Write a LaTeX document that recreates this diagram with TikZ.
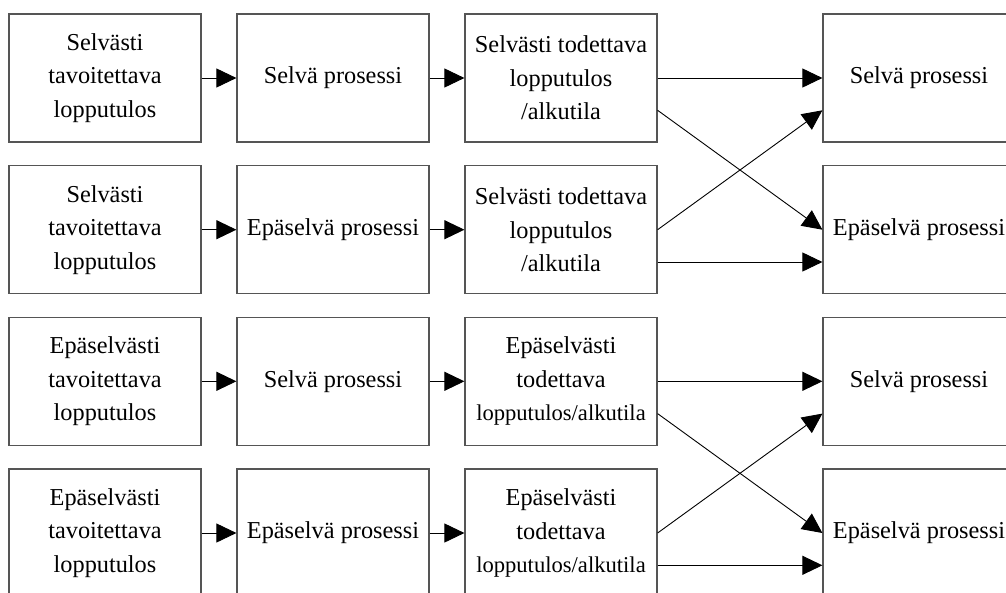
\documentclass[tikz,border=0pt]{standalone}
\usepackage{fontspec}
\setmainfont{Liberation Serif}
\usetikzlibrary{arrows.meta,calc}
\definecolor{edgegray}{RGB}{85,85,85}
\newcommand{\smalltxt}[1]{{\fontsize{22.6}{33.5}\selectfont #1}}
\begin{document}
\begin{tikzpicture}[x=1pt,y=-1pt,
  box/.style={draw=edgegray,line width=1.2pt,minimum width=192pt,minimum height=128pt,
    inner sep=0pt,align=center,font=\fontsize{24.3}{33.5}\selectfont},
  arr/.style={draw=black,line width=0.9pt,-{Triangle[length=20pt,width=19pt]}}]
\useasboundingbox (0,0) rectangle (1006,592);

% row 1
\node[box] (r1a) at (105,78) {Selvästi\\tavoitettava\\lopputulos};
\node[box] (r1b) at (333,78) {Selvä prosessi};
\node[box] (r1c) at (561,78) {Selvästi todettava\\lopputulos\\/alkutila};
\node[box] (r1d) at (919,78) {Selvä prosessi};
% row 2
\node[box] (r2a) at (105,229.7) {Selvästi\\tavoitettava\\lopputulos};
\node[box] (r2b) at (333,229.7) {Epäselvä prosessi};
\node[box] (r2c) at (561,229.7) {Selvästi todettava\\lopputulos\\/alkutila};
\node[box] (r2d) at (919,229.7) {Epäselvä prosessi};
% row 3
\node[box] (r3a) at (105,381.3) {Epäselvästi\\tavoitettava\\lopputulos};
\node[box] (r3b) at (333,381.3) {Selvä prosessi};
\node[box] (r3c) at (561,381.3) {Epäselvästi\\todettava\\\smalltxt{lopputulos/alkutila}};
\node[box] (r3d) at (919,381.3) {Selvä prosessi};
% row 4
\node[box] (r4a) at (105,533) {Epäselvästi\\tavoitettava\\lopputulos};
\node[box] (r4b) at (333,533) {Epäselvä prosessi};
\node[box] (r4c) at (561,533) {Epäselvästi\\todettava\\\smalltxt{lopputulos/alkutila}};
\node[box] (r4d) at (919,533) {Epäselvä prosessi};

% straight chains
\foreach \r in {1,2,3,4}{
  \draw[arr] (r\r a) -- (r\r b);
  \draw[arr] (r\r b) -- (r\r c);
}

% crossing outputs, pair 1
\draw[arr] (r1c.east) -- (r1d.west);
\draw[arr] ($(r1c.east)!.5!(r1c.south east)$) -- (r2d.west);
\draw[arr] (r2c.east) -- ($(r1d.west)!.5!(r1d.south west)$);
\draw[arr] ($(r2c.east)!.5!(r2c.south east)$) -- ($(r2d.west)!.5!(r2d.south west)$);

% crossing outputs, pair 2
\draw[arr] (r3c.east) -- (r3d.west);
\draw[arr] ($(r3c.east)!.5!(r3c.south east)$) -- (r4d.west);
\draw[arr] (r4c.east) -- ($(r3d.west)!.5!(r3d.south west)$);
\draw[arr] ($(r4c.east)!.5!(r4c.south east)$) -- ($(r4d.west)!.5!(r4d.south west)$);
\end{tikzpicture}
\end{document}
